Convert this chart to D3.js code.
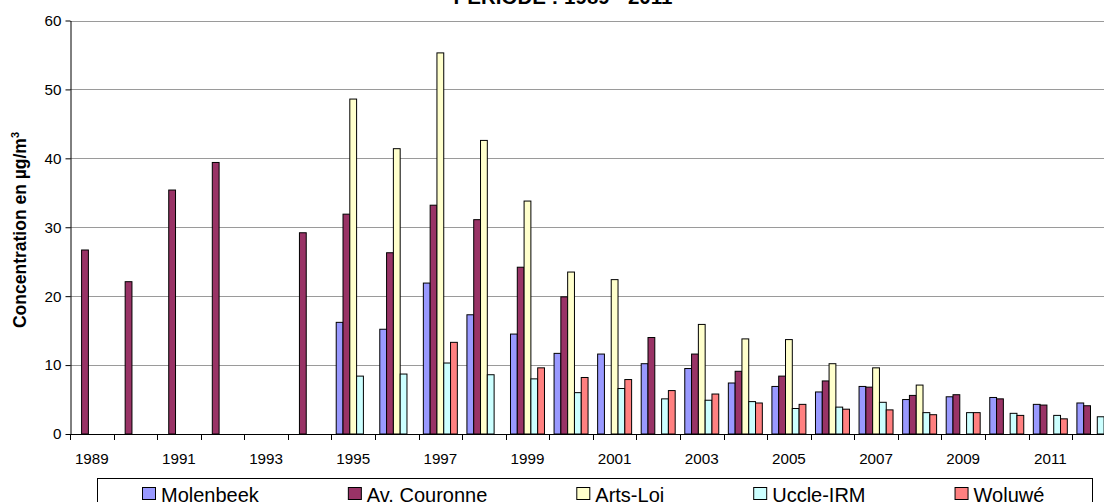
<!DOCTYPE html>
<html>
<head>
<meta charset="utf-8">
<script src="https://cdn.jsdelivr.net/npm/d3@7"></script>
<style>
html,body{margin:0;padding:0;background:#fff;overflow:hidden;}
svg{display:block;font-family:Arial,"Liberation Sans",sans-serif;}
</style>
</head>
<body>
<svg id="chart" width="1104" height="502"></svg>
<script>
const years = [1989,1990,1991,1992,1993,1994,1995,1996,1997,1998,1999,2000,2001,2002,2003,2004,2005,2006,2007,2008,2009,2010,2011,2012];
const seriesNames = ["Molenbeek","Av. Couronne","Arts-Loi","Uccle-IRM","Woluwé"];
const seriesColors = ["#9999FF","#993366","#FFFFCC","#CCFFFF","#FF8080"];
const molenbeek  = [null,null,null,null,null,null,16.2,15.2,21.9,17.3,14.5,11.7,11.6,10.2,9.5,7.4,6.9,6.1,6.9,5.0,5.4,5.3,4.3,4.5];
const avCouronne = [26.7,22.1,35.4,39.4,null,29.2,31.9,26.3,33.2,31.1,24.2,19.9,null,14.0,11.6,9.1,8.4,7.7,6.8,5.6,5.7,5.1,4.2,4.1];
const artsLoi    = [null,null,null,null,null,null,48.6,41.4,55.3,42.6,33.8,23.5,22.4,null,15.9,13.8,13.7,10.2,9.6,7.1,null,null,null,null];
const uccleIRM   = [null,null,null,null,null,null,8.4,8.7,10.3,8.6,8.0,6.0,6.6,5.1,4.9,4.7,3.7,3.9,4.6,3.1,3.1,3.0,2.7,2.5];
const woluwe     = [null,null,null,null,null,null,null,null,13.3,null,9.6,8.2,7.9,6.3,5.8,4.5,4.3,3.6,3.5,2.8,3.1,2.7,2.2,null];
const yTicks = [0,10,20,30,40,50,60];
const xLabels = [1989,1991,1993,1995,1997,1999,2001,2003,2005,2007,2009,2011];
const titleText = "PERIODE : 1989 - 2011";
const yTitle = "Concentration en µg/m";

const seriesValues = [molenbeek, avCouronne, artsLoi, uccleIRM, woluwe];

const svg = d3.select("#chart");
const bw = 43.57;
const x0 = 70;
const x = d3.scaleBand().domain(years).range([x0, x0 + bw * years.length]).padding(0);
const xs = d3.scaleBand().domain(seriesNames).range([bw * 0.11, bw * 0.89]).padding(0);
const y = d3.scaleLinear().domain([0, 60]).range([434, 20.5]);
const plotRight = x0 + bw * years.length;

// gridlines
svg.append("g").selectAll("line").data(yTicks.filter(d => d > 0)).join("line")
  .attr("x1", x0).attr("x2", plotRight)
  .attr("y1", d => Math.round(y(d)) + 0.5).attr("y2", d => Math.round(y(d)) + 0.5)
  .attr("stroke", "#9a9a9a").attr("stroke-width", 1);

// title (clipped at top)
svg.append("text").attr("x", 563).attr("y", 4).attr("text-anchor", "middle")
  .attr("font-weight", "bold").attr("font-size", 20.5).text(titleText);

// bars
const groups = svg.append("g").selectAll("g").data(years).join("g")
  .attr("transform", d => `translate(${x(d)},0)`);
groups.selectAll("rect")
  .data((yr, i) => seriesNames.map((s, k) => ({s, k, v: seriesValues[k][i]})).filter(d => d.v != null))
  .join("rect")
  .attr("x", d => xs(d.s))
  .attr("width", xs.bandwidth())
  .attr("y", d => y(d.v))
  .attr("height", d => y(0) - y(d.v))
  .attr("fill", d => seriesColors[d.k])
  .attr("stroke", "#000").attr("stroke-width", 1);

// y axis
const yAxis = d3.axisLeft(y).tickValues(yTicks).tickSize(5).tickSizeOuter(0).tickPadding(4);
const gy = svg.append("g").attr("transform", `translate(${x0 + 0.5},0)`).call(yAxis);
gy.selectAll("text").attr("font-size", 15.2).attr("font-family", "Arial, 'Liberation Sans', sans-serif").attr("fill", "#000");
gy.selectAll("line").attr("stroke", "#000");
gy.select(".domain").attr("stroke", "#000");

// x axis: ticks at category boundaries
const gx = svg.append("g");
gx.append("line").attr("x1", x0).attr("x2", plotRight).attr("y1", 434.5).attr("y2", 434.5).attr("stroke", "#000");
gx.selectAll("line.tick").data(years.concat([null])).join("line").attr("class", "tick")
  .attr("x1", (d, i) => Math.round(x0 + i * x.step()) + 0.5)
  .attr("x2", (d, i) => Math.round(x0 + i * x.step()) + 0.5)
  .attr("y1", 434).attr("y2", 440).attr("stroke", "#000");
gx.selectAll("text").data(xLabels).join("text")
  .attr("x", d => x(d) + x.bandwidth() / 2).attr("y", 463.5)
  .attr("text-anchor", "middle").attr("font-size", 15.2).text(d => d);

// y title
const yt = svg.append("text").attr("transform", "translate(26,230) rotate(-90)")
  .attr("text-anchor", "middle").attr("font-weight", "bold").attr("font-size", 17.5);
yt.append("tspan").text(yTitle);
yt.append("tspan").attr("dy", -7).attr("font-size", 11).text("3");

// legend
const lg = svg.append("g");
lg.append("rect").attr("x", 97.5).attr("y", 478.5).attr("width", 995).attr("height", 40)
  .attr("fill", "#fff").attr("stroke", "#000").attr("stroke-width", 1);
let lx = 142;
seriesNames.forEach((s, k) => {
  lg.append("rect").attr("x", lx + 0.5).attr("y", 487.5).attr("width", 13).attr("height", 12)
    .attr("fill", seriesColors[k]).attr("stroke", "#000").attr("stroke-width", 1);
  const t = lg.append("text").attr("x", lx + 19).attr("y", 502).attr("font-size", 20).text(s);
  const w = t.node().getComputedTextLength();
  lx += 19 + w + 89;
});
</script>
</body>
</html>
